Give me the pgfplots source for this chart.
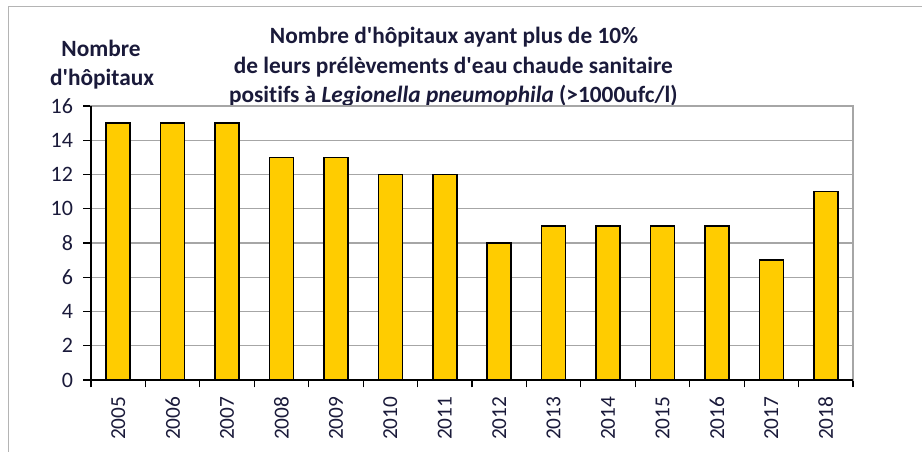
\documentclass[border=0pt]{standalone}
\usepackage{pgfplots}
\pgfplotsset{compat=1.18}
\usepackage{fontspec}
\setmainfont[Ligatures=NoCommon]{Carlito}
\definecolor{barfill}{HTML}{FFCC00}
\definecolor{gridc}{HTML}{A6A6A6}
\definecolor{framec}{HTML}{B4B4B4}
\definecolor{txt}{HTML}{1A1A3A}
\newcommand{\q}{\textquotesingle}
\begin{document}
\begin{tikzpicture}
\useasboundingbox (0,0) rectangle (691.5pt,-339pt);
% outer frame (top and left)
\draw[framec, line width=1.2pt] (6.4pt,-339pt) -- (6.4pt,-4.9pt) -- (691.5pt,-4.9pt);
% title
\begin{scope}[every node/.style={anchor=base, inner sep=0pt, text=txt, font=\fontsize{17.5}{22}\selectfont\bfseries}]
\node at (340.5pt,-33pt) {Nombre d\q hôpitaux ayant plus de 10\%};
\node at (340pt,-55.5pt) {de leurs prélèvements d\q eau chaude sanitaire};
\node at (340pt,-77.25pt) {positifs à \textit{Legionella pneumophila} (>1000ufc/l)};
\node at (75.75pt,-42.75pt) {Nombre};
\node at (76.5pt,-64.5pt) {d\q hôpitaux};
\end{scope}
\begin{axis}[
  at={(68.25pt,-285pt)}, anchor=south west,
  scale only axis, width=571.5pt, height=205.5pt,
  xmin=-0.5, xmax=13.5, ymin=0, ymax=16,
  ytick={0,2,...,16},
  xtick={0,...,13},
  xticklabels={2005,2006,2007,2008,2009,2010,2011,2012,2013,2014,2015,2016,2017,2018},
  minor xtick={-0.5,0.5,...,13.5},
  major x tick style={draw=none},
  minor x tick style={black, line width=0.8pt},
  tick align=outside,
  major tick length=6pt, minor tick length=5.5pt,
  ytick style={black, line width=0.8pt},
  ymajorgrids, grid style={gridc, line width=1.1pt},
  axis line style={gridc, line width=1.1pt},
  xticklabel style={rotate=90, anchor=east, font=\fontsize{16}{16}\selectfont, text=txt, xshift=-3pt},
  yticklabel style={font=\fontsize{16.5}{16}\selectfont, text=txt, xshift=-4pt},
  /pgf/number format/assume math mode=true,
  xtick pos=bottom, ytick pos=left,
  clip=false,
]
\addplot[ybar, bar width=18pt, bar shift=0pt, fill=barfill, draw=black, line width=1.1pt, mark=none]
  coordinates {(0,15) (1,15) (2,15) (3,13) (4,13) (5,12) (6,12) (7,8) (8,9) (9,9) (10,9) (11,9) (12,7) (13,11)};
\draw[black, line width=1.3pt] (rel axis cs:0,1) -- (rel axis cs:0,0) -- (rel axis cs:1,0);
\end{axis}
\end{tikzpicture}
\end{document}
